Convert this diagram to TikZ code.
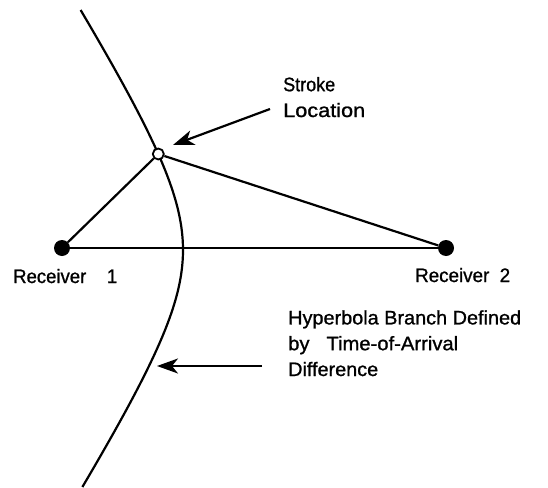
\documentclass[tikz,border=0pt]{standalone}
\usepackage{fontspec}
\usepackage{graphicx}
\setmainfont[FakeBold=1]{Liberation Sans}
\usetikzlibrary{arrows.meta}
\newcommand{\tw}[2]{\resizebox{#1}{\height}{#2}}
\tikzset{
  ln/.style={line width=2.2pt},
  lbl/.style={inner sep=0pt, anchor=base west, align=left, font=\fontsize{19.5}{25.8}\selectfont},
  rdot/.style={circle, fill=black, minimum size=16pt, inner sep=0pt},
  sdot/.style={circle, draw=black, line width=1.8pt, fill=white, minimum size=11pt, inner sep=0pt},
  bigarrow/.style={ln, -{Stealth[length=21pt, width=15pt, inset=6pt]}}
}
\begin{document}
\begin{tikzpicture}[x=1pt, y=-1pt]
\useasboundingbox (0,0) rectangle (548,487);
% hyperbola branch
\draw[ln] plot[domain=-240:237, samples=120, smooth] ({247-64*sqrt(1+(\x/100)^2)}, {250+\x});
% nodes
\node[rdot] (R1) at (62,248) {};
\node[rdot] (R2) at (446,248) {};
\node[sdot] (S) at (158.3,154) {};
\draw[ln] (R1) -- (S);
\draw[ln] (S) -- (R2);
\draw[ln] (R1) -- (R2);
% labels
\node[lbl] (L1) at (13,283) {\tw{104pt}{Receiver\ \ \ \ 1}};
\node[lbl] (L2) at (415,282) {\tw{95pt}{Receiver\ \ 2}};
\node[lbl] (SL) at (283,117) {\tw{52pt}{Stroke}\\\tw{82pt}{Location}};
\node[lbl] (HL) at (288,376) {\tw{233pt}{Hyperbola Branch Defined}\\\tw{170pt}{by\ \ \ Time-of-Arrival}\\\tw{90pt}{Difference}};
% arrows
\coordinate (sa) at (270,109);
\coordinate (st) at (173,145);
\draw[bigarrow] (sa) -- (st);
\coordinate (ha) at (262,366);
\coordinate (ht) at (157,366);
\draw[bigarrow] (ha) -- (ht);
\end{tikzpicture}
\end{document}
